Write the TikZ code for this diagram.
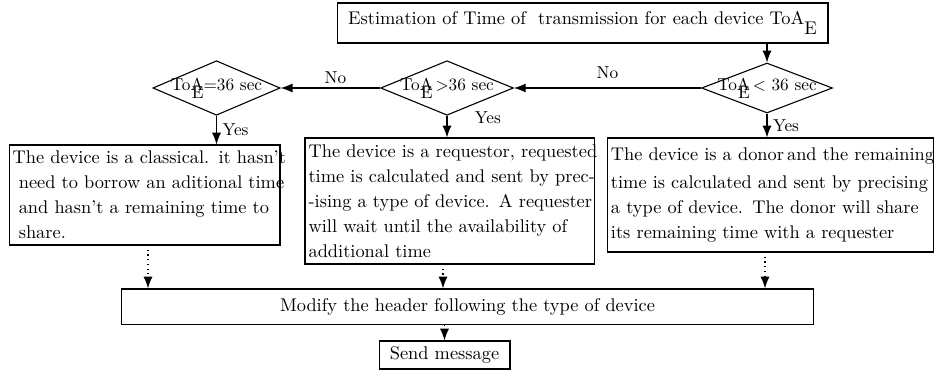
\documentclass[tikz,border=0pt]{standalone}
\usetikzlibrary{shapes.geometric,arrows.meta}
\begin{document}
\begin{tikzpicture}[x=0.55pt,y=-0.55pt,
  box/.style={draw, line width=0.6pt, inner sep=2pt, align=left, font=\fontsize{10.1}{13.8}\selectfont},
  diam/.style={draw, diamond, line width=0.6pt, inner sep=0pt},
  dtxt/.style={font=\fontsize{9.5}{11}\selectfont},
  arr/.style={line width=0.6pt, -{Latex[length=6.5pt,width=5pt]}},
  darr/.style={line width=0.6pt, dotted, -{Latex[length=6.5pt,width=5pt]}},
  lab/.style={font=\fontsize{9.5}{11}\selectfont, inner sep=1pt}]
\useasboundingbox (0,0) rectangle (935,375);
\node[box, minimum width=270pt, minimum height=22pt, align=center] (top) at (582.5,23)
  {Estimation of Time of\ \ transmission for each device ToA\raisebox{-1.2ex}{E}};
\node[diam, minimum width=72pt, minimum height=27.5pt,
  label={[dtxt]center:ToA\raisebox{-1.1ex}{\llap{E}}\,$<$ 36 sec}] (dR) at (767,88) {};
\node[diam, minimum width=73pt, minimum height=30pt,
  label={[dtxt]center:ToA\raisebox{-1.1ex}{\llap{E}}\,$>$36 sec}] (dM) at (447,88) {};
\node[diam, minimum width=70pt, minimum height=30pt,
  label={[dtxt]center:ToA\raisebox{-1.1ex}{\llap{E}}=36 sec}] (dL) at (216.5,88) {};
\node[box, minimum width=149pt, minimum height=55pt, text width=145pt] (bL) at (144.5,195)
  {\mbox{The device is a classical. it hasn't}\\ \mbox{\ need to borrow an aditional time}\\ \mbox{\ and hasn't a remaining time to}\\ \mbox{\ share.}};
\node[box, minimum width=159pt, minimum height=69.3pt, text width=155pt] (bM) at (449.5,201)
  {\mbox{The device is a requestor, requested}\\\mbox{time is calculated and sent by prec-}\\\mbox{-ising a type of device. A requester}\\\mbox{will wait until the availability of}\\\mbox{additional time}};
\node[box, minimum width=179.5pt, minimum height=62.7pt, text width=175.5pt] (bR) at (770.5,195)
  {\mbox{The device is a donor\,and the remaining}\\[1.5pt]\mbox{time is calculated and sent by precising}\\\mbox{a type of device. The donor will share}\\\mbox{its remaining time with a requester}};
\node[box, minimum width=381pt, minimum height=19.3pt, align=center] (mod) at (467.5,306.5)
  {Modify the header following the type of device};
\node[box, minimum width=72pt, minimum height=15.4pt, align=center] (send) at (444.5,355)
  {Send message};
\draw[arr] (dR.north |- top.south) -- (dR.north);
\draw[arr] (dR.west) -- node[lab, above=4pt] {No} (dM.east);
\draw[arr] (dM.west) -- node[lab, above=1pt, pos=0.45] {No} (dL.east);
\draw[arr] (dL.south) -- node[lab, right=2pt] {Yes} (dL.south |- bL.north);
\draw[arr] (dM.south) -- node[lab, right=14pt, pos=0.1] {Yes} (dM.south |- bM.north);
\draw[arr] (dR.south) -- node[lab, right=2pt] {Yes} (dR.south |- bR.north);
\coordinate (cL) at (148,245);
\coordinate (cM) at (443,264);
\coordinate (cR) at (765,252);
\draw[darr] (cL) -- (cL |- mod.north);
\draw[darr] (cM) -- (cM |- mod.north);
\draw[darr] (cR) -- (cR |- mod.north);
\draw[darr] (mod.south -| send.north) -- (send.north);
\end{tikzpicture}
\end{document}
